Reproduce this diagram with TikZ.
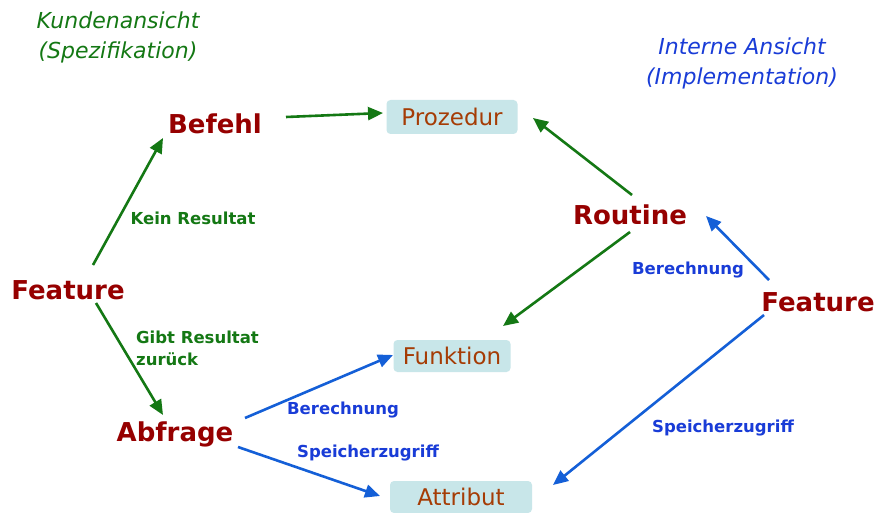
\documentclass[tikz,border=0pt]{standalone}
\usepackage{fontspec}
\setmainfont{DejaVu Sans}
\usetikzlibrary{arrows.meta}
\definecolor{kgreen}{RGB}{20,120,20}
\definecolor{kred}{RGB}{150,0,0}
\definecolor{kblue}{RGB}{25,60,215}
\definecolor{kblueline}{RGB}{20,95,215}
\definecolor{kbrown}{RGB}{165,60,5}
\definecolor{kbox}{RGB}{200,230,233}
\tikzset{
  head/.style={font=\fontsize{22}{30}\selectfont\itshape, align=center},
  concept/.style={text=kred, font=\fontsize{26}{30}\selectfont\bfseries, inner sep=0pt},
  impl/.style={fill=kbox, rounded corners=4pt, text=kbrown, font=\fontsize{23}{26}\selectfont, minimum height=32pt, inner sep=0pt},
  glab/.style={text=kgreen, font=\fontsize{16.5}{22}\selectfont\bfseries, inner sep=0pt},
  blab/.style={text=kblue, font=\fontsize{16.5}{22}\selectfont\bfseries, inner sep=0pt},
  garr/.style={draw=kgreen, line width=2.6pt, -{Triangle[length=15pt,width=13pt]}},
  barr/.style={draw=kblueline, line width=2.6pt, -{Triangle[length=15pt,width=13pt]}},
}
\begin{document}
\begin{tikzpicture}[x=1pt,y=-1pt]
\useasboundingbox[fill=white] (0,0) rectangle (890,513);
\node[head, text=kgreen] (kh) at (118,37) {Kundenansicht\\(Spezifikation)};
\node[head, text=kblue] (ih) at (742,63) {Interne Ansicht\\(Implementation)};

\node[concept] (befehl) at (215,124) {Befehl};
\node[concept] (featL) at (68,290) {Feature};
\node[concept] (abfrage) at (175,434) {Abfrage};
\node[concept] (routine) at (630,215) {Routine};
\node[concept] (featR) at (818,302) {Feature};

\node[impl, minimum width=131pt, minimum height=34pt] (proz) at (452,117) {Prozedur};
\node[impl, minimum width=117pt] (funk) at (452,356) {Funktion};
\node[impl, minimum width=142pt] (attr) at (461,497) {Attribut};

\coordinate (a1s) at (93,265); \coordinate (a1e) at (163,138);
\coordinate (a2s) at (286,117); \coordinate (a2e) at (383,113);
\coordinate (a3s) at (96,303); \coordinate (a3e) at (163,415);
\coordinate (a4s) at (632,195); \coordinate (a4e) at (533,118);
\coordinate (a5s) at (630,232); \coordinate (a5e) at (503,326);
\coordinate (a6s) at (769,280); \coordinate (a6e) at (706,216);
\coordinate (a7s) at (764,315); \coordinate (a7e) at (553,485);
\coordinate (a8s) at (245,418); \coordinate (a8e) at (393,355);
\coordinate (a9s) at (238,447); \coordinate (a9e) at (380,496);

\draw[garr] (a1s) -- (a1e);
\draw[garr] (a2s) -- (a2e);
\draw[garr] (a3s) -- (a3e);
\draw[garr] (a4s) -- (a4e);
\draw[garr] (a5s) -- (a5e);
\draw[barr] (a6s) -- (a6e);
\draw[barr] (a7s) -- (a7e);
\draw[barr] (a8s) -- (a8e);
\draw[barr] (a9s) -- (a9e);

\node[glab] (l1) at (193,218) {Kein Resultat};
\node[glab, align=left, anchor=west] (l2) at (136,348) {Gibt Resultat\\zurück};
\node[blab] (l3) at (688,270) {Berechnung};
\node[blab] (l4) at (723,428) {Speicherzugriff};
\node[blab] (l5) at (343,410) {Berechnung};
\node[blab] (l6) at (368,453) {Speicherzugriff};
\end{tikzpicture}
\end{document}
